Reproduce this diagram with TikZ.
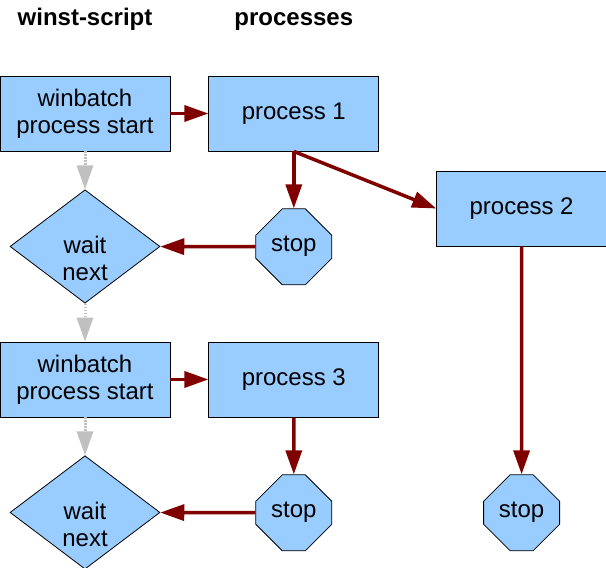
\documentclass[tikz,border=0pt]{standalone}
\usepackage{fontspec}
\setmainfont{Liberation Sans}
\usepackage{xcolor}
\usetikzlibrary{shapes,arrows.meta,positioning,calc}
\definecolor{boxblue}{HTML}{99CCFF}
\definecolor{flowred}{HTML}{800000}
\definecolor{waitgray}{HTML}{C0C0C0}

\begin{document}
\begin{tikzpicture}[
    x=1pt, y=1pt,
    node distance=38pt,
    procbox/.style={rectangle, draw=black, fill=boxblue, line width=0.8pt, minimum width=170pt, minimum height=75pt, align=center, font=\fontsize{24}{27}\selectfont},
    waitbox/.style={diamond, draw=black, fill=boxblue, line width=0.8pt, minimum width=150pt, minimum height=113pt, inner sep=0pt, align=center, text height=68pt, text depth=0pt, font=\fontsize{24}{27}\selectfont},
    stopbox/.style={chamfered rectangle, chamfered rectangle xsep=17pt, chamfered rectangle ysep=17pt, draw=black, fill=boxblue, line width=0.8pt, minimum width=76pt, minimum height=76pt, inner sep=0pt, text height=14pt, text depth=5pt, font=\fontsize{24}{27}\selectfont},
    head/.style={inner sep=0pt, text depth=5pt, font=\bfseries\fontsize{24}{27}\selectfont},
    arrow/.style={-{Triangle[length=24pt,width=16pt]}, line width=3.5pt, flowred},
    waitarrow/.style={-{Triangle[length=24pt,width=16pt]}, line width=3pt, waitgray, dash pattern=on 1.5pt off 1.5pt}
]
\useasboundingbox (0,0) rectangle (606,-568);

% winst-script column
\node[procbox] (start1) at (85,-113.5) {winbatch\\process start};
\node[waitbox, below=of start1] (wait1) {wait\\next};
\node[procbox, below=of wait1] (start2) {winbatch\\process start};
\node[waitbox, below=of start2] (wait2) {wait\\next};

% processes
\node[procbox, right=of start1] (proc1) {process 1};
\node[procbox, right=57pt of proc1, yshift=-95pt] (proc2) {process 2};
\node[procbox, right=of start2] (proc3) {process 3};
\node[stopbox, below=57pt of proc1] (stop1) {stop};
\node[stopbox, below=57pt of proc3] (stop2) {stop};
\node[stopbox] (stop3) at (proc2 |- stop2) {stop};

% Headings
\node[head, above=45pt of start1] (hscript) {winst-script};
\node[head, above=45pt of proc1] (hproc) {processes};

% Arrows
\draw[arrow] (start1) -- (proc1);
\draw[arrow] (start2) -- (proc3);
\draw[arrow] (proc1.south) -- (stop1.north);
\draw[arrow] (proc1.south) -- (proc2.west);
\draw[arrow] (proc2) -- (stop3);
\draw[arrow] (proc3) -- (stop2);
\draw[arrow] (stop1) -- (wait1);
\draw[arrow] (stop2) -- (wait2);
\draw[waitarrow] (start1) -- (wait1);
\draw[waitarrow] (wait1) -- (start2);
\draw[waitarrow] (start2) -- (wait2);
\end{tikzpicture}
\end{document}
